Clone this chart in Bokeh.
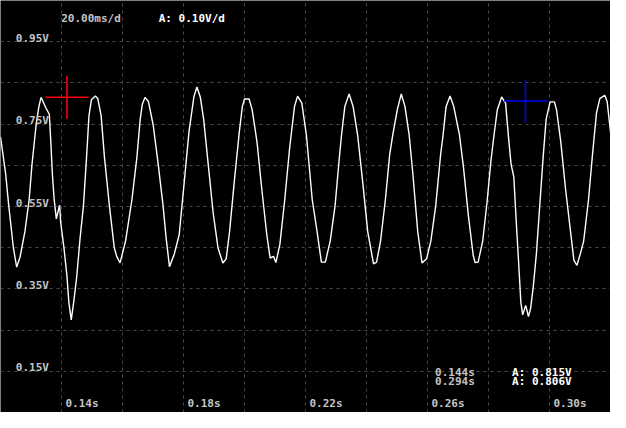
from bokeh.plotting import figure
from bokeh.models import Range1d, FixedTicker, ColumnDataSource
from bokeh.core.properties import value
from bokeh.embed import file_html
from bokeh.resources import INLINE

# ---------------- data ----------------
time_s = [0.1200, 0.1217, 0.1227, 0.1242, 0.1253, 0.1264, 0.1280, 0.1294, 0.1303, 0.1317,
          0.1326, 0.1333, 0.1349, 0.1360, 0.1365, 0.1370, 0.1376, 0.1383, 0.1388, 0.1394,
          0.1397, 0.1408, 0.1418, 0.1424, 0.1432, 0.1440, 0.1450, 0.1461, 0.1472, 0.1482,
          0.1490, 0.1498, 0.1511, 0.1519, 0.1530, 0.1541, 0.1557, 0.1573, 0.1581, 0.1592,
          0.1610, 0.1631, 0.1647, 0.1658, 0.1665, 0.1674, 0.1685, 0.1701, 0.1717, 0.1733,
          0.1743, 0.1754, 0.1770, 0.1786, 0.1802, 0.1818, 0.1834, 0.1844, 0.1855, 0.1866,
          0.1881, 0.1897, 0.1913, 0.1929, 0.1940, 0.1951, 0.1967, 0.1983, 0.1993, 0.2000,
          0.2015, 0.2025, 0.2041, 0.2057, 0.2073, 0.2084, 0.2095, 0.2103, 0.2116, 0.2132,
          0.2148, 0.2164, 0.2174, 0.2188, 0.2203, 0.2222, 0.2238, 0.2252, 0.2265, 0.2281,
          0.2297, 0.2310, 0.2318, 0.2329, 0.2343, 0.2356, 0.2371, 0.2388, 0.2404, 0.2423,
          0.2433, 0.2446, 0.2462, 0.2476, 0.2486, 0.2501, 0.2514, 0.2526, 0.2540, 0.2552,
          0.2568, 0.2582, 0.2597, 0.2611, 0.2627, 0.2643, 0.2651, 0.2661, 0.2674, 0.2686,
          0.2705, 0.2718, 0.2734, 0.2750, 0.2756, 0.2766, 0.2781, 0.2795, 0.2808, 0.2818,
          0.2829, 0.2843, 0.2856, 0.2867, 0.2874, 0.2883, 0.2891, 0.2899, 0.2906, 0.2912,
          0.2922, 0.2931, 0.2938, 0.2947, 0.2957, 0.2968, 0.2979, 0.2989, 0.3002, 0.3016,
          0.3023, 0.3037, 0.3053, 0.3069, 0.3080, 0.3090, 0.3101, 0.3112, 0.3128, 0.3140,
          0.3154, 0.3165, 0.3181, 0.3189, 0.3200]
volts = [0.719, 0.629, 0.552, 0.451, 0.403, 0.427, 0.489, 0.567, 0.650, 0.750,
         0.793, 0.815, 0.789, 0.774, 0.707, 0.629, 0.567, 0.520, 0.536, 0.553,
         0.513, 0.450, 0.380, 0.318, 0.275, 0.318, 0.380, 0.474, 0.552, 0.668,
         0.770, 0.809, 0.818, 0.812, 0.770, 0.668, 0.552, 0.450, 0.429, 0.413,
         0.466, 0.567, 0.668, 0.762, 0.798, 0.815, 0.805, 0.746, 0.653, 0.552,
         0.474, 0.404, 0.435, 0.482, 0.606, 0.731, 0.816, 0.840, 0.816, 0.762,
         0.653, 0.536, 0.450, 0.413, 0.423, 0.489, 0.614, 0.731, 0.793, 0.811,
         0.811, 0.785, 0.707, 0.590, 0.482, 0.425, 0.429, 0.414, 0.458, 0.567,
         0.692, 0.793, 0.818, 0.801, 0.723, 0.567, 0.489, 0.415, 0.415, 0.466,
         0.552, 0.661, 0.723, 0.793, 0.823, 0.793, 0.723, 0.606, 0.489, 0.411,
         0.415, 0.466, 0.567, 0.676, 0.723, 0.785, 0.823, 0.793, 0.723, 0.629,
         0.489, 0.413, 0.423, 0.466, 0.552, 0.676, 0.723, 0.793, 0.818, 0.793,
         0.723, 0.645, 0.528, 0.431, 0.414, 0.415, 0.466, 0.559, 0.661, 0.723,
         0.785, 0.816, 0.801, 0.707, 0.653, 0.622, 0.513, 0.411, 0.318, 0.287,
         0.310, 0.283, 0.302, 0.357, 0.435, 0.552, 0.668, 0.762, 0.804, 0.804,
         0.785, 0.707, 0.590, 0.489, 0.419, 0.407, 0.435, 0.466, 0.567, 0.668,
         0.777, 0.812, 0.820, 0.805, 0.731]

x_grid_ticks = [0.14, 0.16, 0.18, 0.20, 0.22, 0.24, 0.26, 0.28, 0.30]
y_grid_ticks = [0.15, 0.25, 0.35, 0.45, 0.55, 0.65, 0.75, 0.85, 0.95]
x_label_ticks = [0.14, 0.18, 0.22, 0.26, 0.30]
x_labels = ["0.14s", "0.18s", "0.22s", "0.26s", "0.30s"]
y_label_ticks = [0.95, 0.75, 0.55, 0.35, 0.15]
y_labels = ["0.95V", "0.75V", "0.55V", "0.35V", "0.15V"]

cursor_t = [0.1418, 0.2921]
cursor_v = [0.815, 0.806]
cursor_colors = ["#ff0000", "#0000ff"]
cursor_time_text = ["0.144s", "0.294s"]
cursor_volt_text = ["A: 0.815V", "A: 0.806V"]
timebase_text = "20.00ms/d"
vscale_text = "A: 0.10V/d"

# ---------------- layout ----------------
W, H = 610, 412
X0, X1 = 0.12, 0.32
Y0, Y1 = 0.05, 1.05
REF_W, REF_H = 626.0, 428.0


def rx(px):
    """reference-pixel x position -> time coordinate (for annotation placement)"""
    return X0 + px / REF_W * (X1 - X0)


def ry(py):
    """reference-pixel y position -> voltage coordinate (for annotation placement)"""
    return Y1 - py / REF_H * (Y1 - Y0)


FONT = value("DejaVu Sans Mono")
GRAY = "#c4c4c4"

p = figure(width=W, height=H, x_range=Range1d(X0, X1), y_range=Range1d(Y0, Y1),
           output_backend="svg", toolbar_location=None,
           x_axis_location=None, y_axis_location=None,
           background_fill_color="#000000", border_fill_color="#000000",
           outline_line_color=None, min_border=0)

p.xgrid.ticker = FixedTicker(ticks=x_grid_ticks)
p.ygrid.ticker = FixedTicker(ticks=y_grid_ticks)
for g in (p.xgrid, p.ygrid):
    g.grid_line_color = "#4a4a4a"
    g.grid_line_dash = "3 4"
    g.grid_line_width = 1

# waveform
p.line(time_s, volts, line_color="#ffffff", line_width=1.4)

# cursors
p.scatter(cursor_t, cursor_v, marker="cross", size=43, line_color=cursor_colors,
          line_width=1.6, fill_color=None)

# axis labels inside the plot
ylab = ColumnDataSource(dict(x=[rx(15.7)] * len(y_labels),
                             y=[v + 3.5 / REF_H for v in y_label_ticks], t=y_labels))
p.text("x", "y", text="t", source=ylab, text_color=GRAY, text_font=FONT,
       text_font_style="bold", text_font_size="11px", text_baseline="alphabetic")

xlab = ColumnDataSource(dict(x=[t + rx(4.0) - X0 for t in x_label_ticks],
                             y=[ry(418.5)] * len(x_labels), t=x_labels))
p.text("x", "y", text="t", source=xlab, text_color=GRAY, text_font=FONT,
       text_font_style="bold", text_font_size="11px", text_baseline="alphabetic")

# header
p.text([rx(62.3)], [ry(18.5)], text=[timebase_text], text_color=GRAY, text_font=FONT,
       text_font_style="bold", text_font_size="11px", text_baseline="alphabetic")
p.text([rx(162.3)], [ry(18.5)], text=[vscale_text], text_color="#ffffff", text_font=FONT,
       text_font_style="bold", text_font_size="11px", text_baseline="alphabetic")

# cursor readouts
rows = [ry(386.3), ry(396.3)]
p.text([rx(446)] * 2, rows, text=cursor_time_text, text_color=GRAY, text_font=FONT,
       text_font_style="bold", text_font_size="11px", text_baseline="alphabetic")
p.text([rx(525)] * 2, rows, text=cursor_volt_text, text_color="#ffffff", text_font=FONT,
       text_font_style="bold", text_font_size="11px", text_baseline="alphabetic")

open("out.html", "w").write(file_html(p, INLINE))
